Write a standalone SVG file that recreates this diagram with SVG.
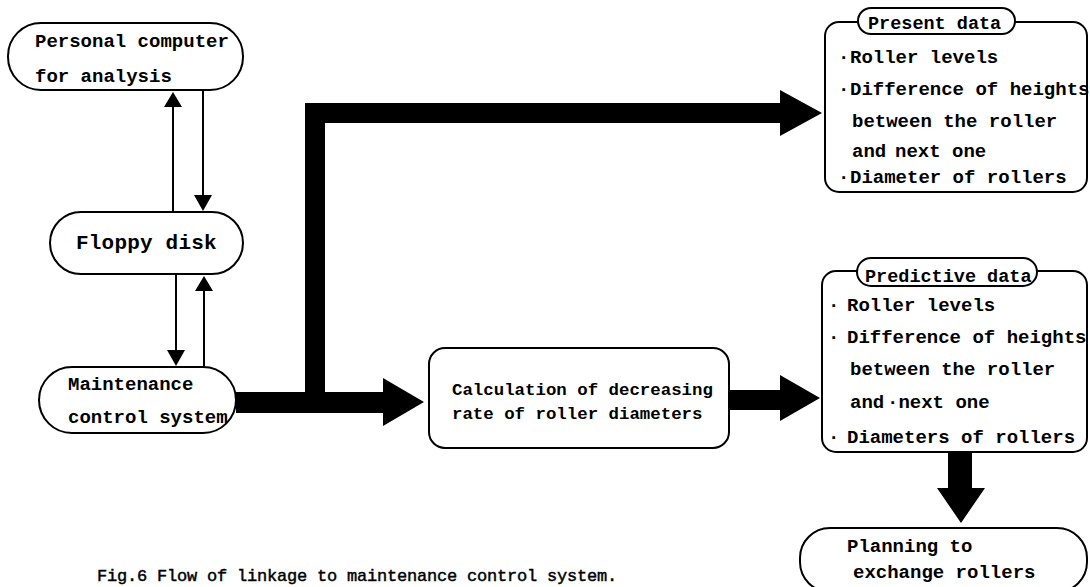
<svg xmlns="http://www.w3.org/2000/svg" width="1090" height="587" viewBox="0 0 1090 587">
<style>
.box{fill:#fff;stroke:#000;stroke-width:2}
.t{font-family:"Liberation Mono","DejaVu Sans Mono",monospace;font-weight:bold;font-size:19px;fill:#000}
.big{font-size:21px;letter-spacing:0.2px}
.calc{font-size:17.4px}
.hd{font-size:18.5px}
.cap{font-family:"Liberation Mono","DejaVu Sans Mono",monospace;font-size:17px;letter-spacing:-0.2px;fill:#000;stroke:#000;stroke-width:0.45px}
.ln{stroke:#000;stroke-width:2;fill:none}
.fill{fill:#000}
</style>
<rect width="1090" height="587" fill="#fff"/>
<g id="connectors">
  <line class="ln" x1="173" y1="212" x2="173" y2="104"/>
  <polygon class="fill" points="164,107 182,107 173,92"/>
  <line class="ln" x1="203" y1="91" x2="203" y2="198"/>
  <polygon class="fill" points="194,195 212,195 203,211"/>
  <line class="ln" x1="176" y1="274" x2="176" y2="353"/>
  <polygon class="fill" points="167,350 185,350 176,366"/>
  <line class="ln" x1="204" y1="367" x2="204" y2="288"/>
  <polygon class="fill" points="195,291 213,291 204,276"/>
  <polygon class="fill" points="236,392 305,392 305,103 780,103 780,90 822,113 780,136 780,123 325,123 325,392 383,392 383,378 424,402 383,426 383,413 236,413"/>
  <polygon class="fill" points="729,390 780,390 780,375 820,398 780,421 780,410 729,410"/>
  <polygon class="fill" points="948,452 972,452 972,488 985,488 961,523 937,488 948,488"/>
</g>
<g id="pc">
  <rect class="box" x="8" y="23" width="235" height="67" rx="33"/>
  <text class="t" x="35" y="47">Personal computer</text>
  <text class="t" x="35" y="82">for analysis</text>
</g>
<g id="floppy">
  <rect class="box" x="50" y="212" width="193" height="62" rx="31"/>
  <text class="t big" x="76" y="249">Floppy disk</text>
</g>
<g id="maintenance">
  <rect class="box" x="39" y="367" width="197" height="66" rx="33"/>
  <text class="t" x="68" y="390">Maintenance</text>
  <text class="t" x="68" y="423">control system</text>
</g>
<g id="calc">
  <rect class="box" x="429" y="348" width="300" height="100" rx="16"/>
  <text class="t calc" x="452" y="395">Calculation of decreasing</text>
  <text class="t calc" x="452" y="419">rate of roller diameters</text>
</g>
<g id="present">
  <rect class="box" x="825" y="22" width="262" height="170" rx="14"/>
  <rect class="box" x="858" y="8" width="157" height="26" rx="13"/>
  <text class="t hd" x="868" y="29">Present data</text>
  <text class="t" x="838" y="63">·</text>
  <text class="t" x="850" y="63">Roller levels</text>
  <text class="t" x="838" y="95">·</text>
  <text class="t" x="850" y="95">Difference of heights</text>
  <text class="t" x="852" y="127">between the roller</text>
  <text class="t" x="852" y="157">and</text>
  <text class="t" x="895" y="157">next one</text>
  <text class="t" x="838" y="183">·</text>
  <text class="t" x="850" y="183">Diameter of rollers</text>
</g>
<g id="predictive">
  <rect class="box" x="822" y="271" width="265" height="181" rx="14"/>
  <rect class="box" x="857" y="258" width="180" height="28" rx="14"/>
  <text class="t hd" x="865" y="282">Predictive data</text>
  <text class="t" x="828" y="311">·</text>
  <text class="t" x="847" y="311">Roller levels</text>
  <text class="t" x="828" y="343">·</text>
  <text class="t" x="847" y="343">Difference of heights</text>
  <text class="t" x="850" y="375">between the roller</text>
  <text class="t" x="850" y="408">and</text>
  <text class="t" x="887" y="408">·next one</text>
  <text class="t" x="828" y="443">·</text>
  <text class="t" x="847" y="443">Diameters of rollers</text>
</g>
<g id="planning">
  <rect class="box" x="800" y="528" width="287" height="64" rx="30"/>
  <text class="t" x="847" y="552">Planning to</text>
  <text class="t" x="853" y="578">exchange rollers</text>
</g>
<g id="caption">
  <text class="cap" x="97" y="581">Fig.6 Flow of linkage to maintenance control system.</text>
</g>
</svg>
